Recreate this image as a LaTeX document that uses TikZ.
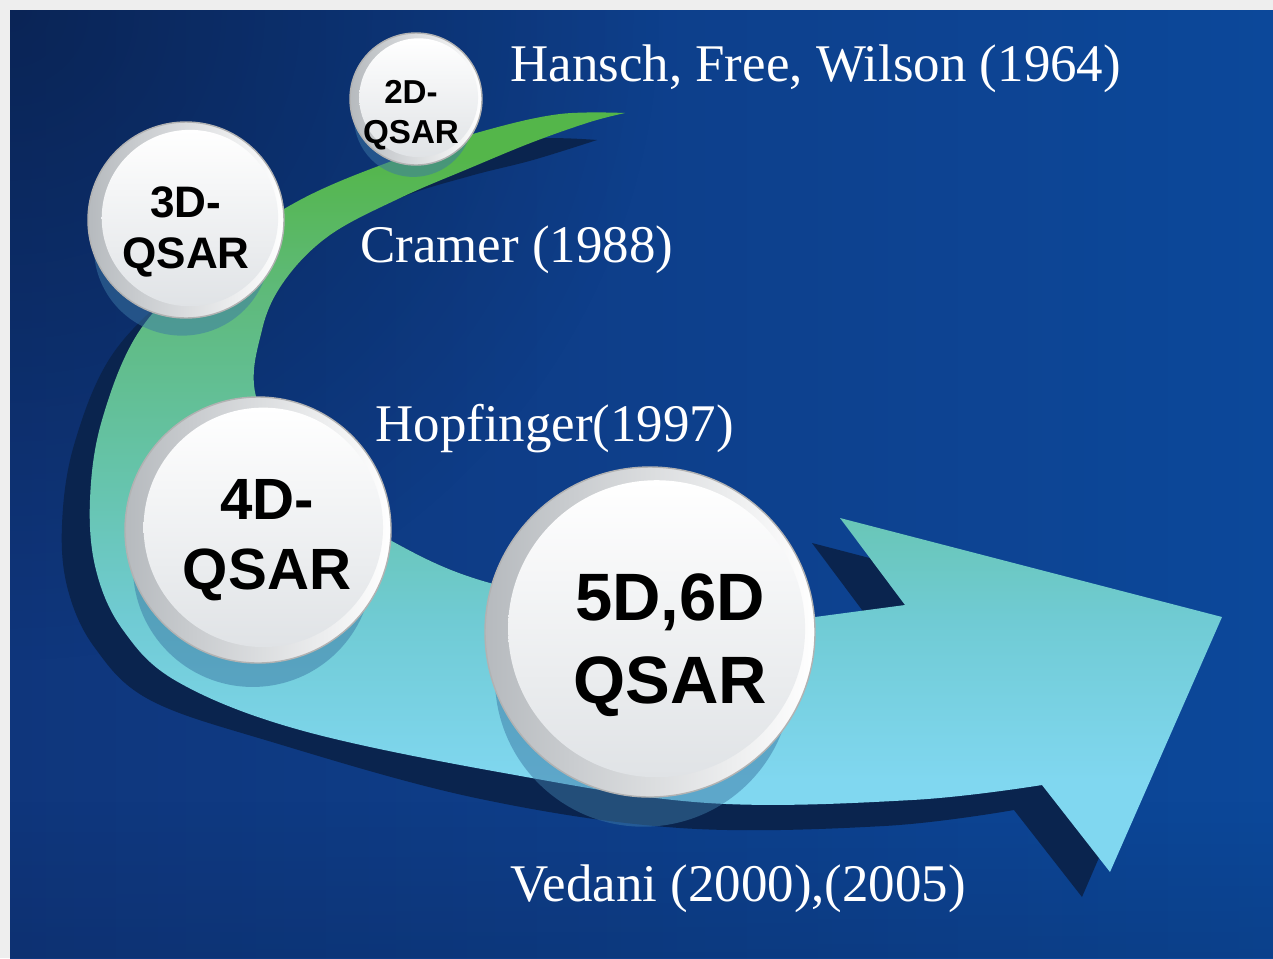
\documentclass[tikz,border=0pt]{standalone}
\usepackage{fontspec}
\setmainfont{Liberation Serif}
\newfontfamily\ballfont{Liberation Sans}
\usetikzlibrary{fadings}
\definecolor{frame_gray}{RGB}{238,238,238}
\definecolor{bg_left}{RGB}{15,54,124}
\definecolor{bg_right}{RGB}{12,72,154}
\definecolor{bg_dark}{RGB}{6,22,55}
\definecolor{ribbon_shadow}{RGB}{10,36,78}
\definecolor{ball_shadow}{RGB}{60,120,165}
\definecolor{ball_rim}{RGB}{182,186,190}
\definecolor{ball_face}{RGB}{224,227,230}
\definecolor{rib_green}{RGB}{84,182,74}
\definecolor{rib_mint}{RGB}{95,186,125}
\definecolor{rib_teal}{RGB}{102,196,172}
\definecolor{rib_blue}{RGB}{112,203,212}
\definecolor{rib_cyan}{RGB}{128,215,240}
\pgfdeclareverticalshading{ribbon}{100bp}{color(0bp)=(rib_cyan); color(31bp)=(rib_cyan);
  color(41.5bp)=(rib_blue); color(50.7bp)=(rib_teal); color(62.5bp)=(rib_mint);
  color(72bp)=(rib_green); color(100bp)=(rib_green)}
\tikzfading[name=corner fade, inner color=transparent!0, outer color=transparent!100]

% ball: x, y, radius
\newcommand{\qball}[3]{%
  \fill[ball_shadow, opacity=0.5] (#1-0.04*#3, #2+0.28*#3) circle[radius=0.9*#3];
  \shade[left color=ball_rim, right color=white, draw=gray!60, line width=0.8pt] (#1,#2) circle[radius=#3];
  \shade[top color=white, bottom color=ball_face] (#1+0.04*#3, #2-0.02*#3) circle[radius=0.9*#3];
}

\begin{document}
\begin{tikzpicture}[x=0.5669pt, y=-0.5669pt,
  note/.style={text=white, font=\fontsize{30}{36}\selectfont, anchor=base west, inner sep=0pt},
  balltext/.style 2 args={align=center, inner sep=0pt, font=\ballfont\bfseries\fontsize{#1}{#2}\selectfont}]

\useasboundingbox (0,0) rectangle (1273,958);
\fill[frame_gray] (0,0) rectangle (1273,958);
\shade[left color=bg_left, right color=bg_right] (10,10) rectangle (1273,958);
\begin{scope}
  \clip (10,10) rectangle (1273,958);
  \fill[bg_dark, opacity=0.55, path fading=corner fade] (10,10) circle[radius=650];
  \fill[bg_dark, opacity=0.15, path fading=north] (10,800) rectangle (1273,958);
\end{scope}

% shadow under the ribbon
\fill[ribbon_shadow] plot[smooth, tension=0.6] coordinates {(597,140) (532,139) (459,155) (372,183)
    (272,225) (182,285) (112,355) (74,445) (62,525) (68,590) (95,648) (150,700) (272,742)
    (476,798) (680,828) (884,826) (1014,810)}
  -- (1082,897) -- (1192,642) -- (812,543) -- (877,630) -- (815,617)
  -- plot[smooth, tension=0.6] coordinates {(815,617) (650,612) (490,583) (390,540) (310,485)
    (257,400) (262,330) (285,280) (330,235) (400,198) (470,176) (533,160) (597,140)}
  -- cycle;

% the ribbon
\shade[shading=ribbon] plot[smooth, tension=0.6] coordinates {(625,113) (560,114) (487,130)
    (400,158) (300,200) (210,260) (140,330) (102,420) (90,500) (96,570) (123,630) (178,682)
    (300,730) (504,773) (708,803) (912,800) (1042,785)}
  -- (1110,872) -- (1222,617) -- (840,518) -- (905,605) -- (815,617)
  -- plot[smooth, tension=0.6] coordinates {(815,617) (650,612) (490,583) (390,540) (310,485)
    (257,400) (262,330) (285,280) (330,235) (400,198) (470,168) (533,142) (590,122) (625,113)}
  -- cycle;

\qball{416}{99}{66}
\qball{186}{220}{98}
\qball{258}{530}{133}
\qball{650}{632}{165}

\node[balltext={18.8}{23}] (q2d) at (411,115) {2D-\\QSAR};
\node[balltext={25}{29}] (q3d) at (186,232) {3D-\\QSAR};
\node[balltext={33}{40}] (q4d) at (267,540) {4D-\\QSAR};
\node[balltext={38}{47}] (q56d) at (670,645) {5D,6D\\QSAR};

\node[note] (hansch) at (510,81) {Hansch, Free, Wilson (1964)};
\node[note] (cramer) at (360,262) {Cramer (1988)};
\node[note] (hopf) at (375,441) {Hopfinger(1997)};
\node[note] (vedani) at (510,901) {Vedani (2000),(2005)};
\end{tikzpicture}
\end{document}
